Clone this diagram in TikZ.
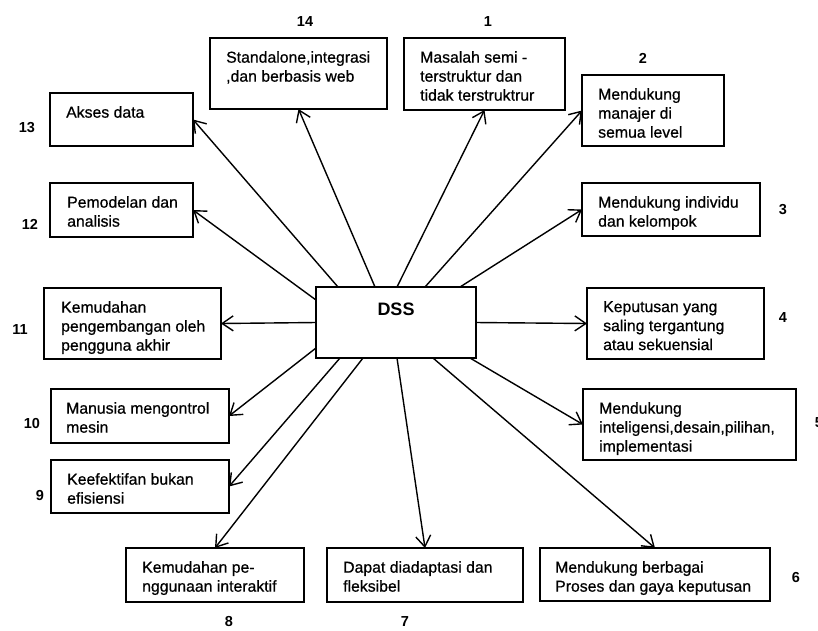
\documentclass[tikz,border=0pt]{standalone}
\usepackage{fontspec}
\setmainfont{Liberation Sans}
\newfontfamily\boxfont[FakeBold=0.7]{Liberation Sans}
\usetikzlibrary{arrows.meta}

\begin{document}
\begin{tikzpicture}[x=1pt,y=-1pt,>={Straight Barb[length=11pt,width=15pt]},
  box/.style={draw,line width=1.8pt,inner sep=0pt,outer sep=0pt,anchor=north west},
  txt/.style={anchor=north west,inner sep=0pt,align=left,font=\boxfont\fontsize{15.8}{19}\selectfont},
  num/.style={inner sep=0pt,font=\bfseries\fontsize{14.5}{16}\selectfont},
  arr/.style={->,line width=1.4pt}]

\useasboundingbox (0,0) rectangle (818,630);

% boxes: name/left/top/width/height
\foreach \n/\x/\y/\w/\h in {dss/316/287/160/71, 14/210/38/177/71, 1/404/38/161/72,
  2/582/75/142/71, 3/582/183/178/53, 4/587/288/177/71, 5/583/389/213/71,
  6/540/548/230/53, 7/327/548/196/54, 8/126/548/178/54, 9/51/460/178/53,
  10/51/389/178/54, 11/44/288/177/71, 12/50/183/143/54, 13/50/93/143/53}{
  \node[box,minimum width=\w,minimum height=\h] (b\n) at (\x,\y) {};
}

\node[font=\bfseries\fontsize{18}{20}\selectfont,inner sep=0pt] (dss) at (396,309) {DSS};

\node[txt] (t14) at ([shift={(16,13)}]b14.north west) {Standalone,integrasi\\,dan berbasis web};
\node[txt] (t1) at ([shift={(16,13)}]b1.north west) {Masalah semi -\\terstruktur dan\\tidak terstruktrur};
\node[txt] (t2) at ([shift={(16,13)}]b2.north west) {Mendukung\\manajer di\\semua level};
\node[txt] (t3) at ([shift={(16,13)}]b3.north west) {Mendukung individu\\dan kelompok};
\node[txt] (t4) at ([shift={(16,13)}]b4.north west) {Keputusan yang\\saling tergantung\\atau sekuensial};
\node[txt] (t5) at ([shift={(16,13)}]b5.north west) {Mendukung\\inteligensi,desain,pilihan,\\implementasi};
\node[txt] (t6) at ([shift={(15,13)}]b6.north west) {Mendukung berbagai\\Proses dan  gaya keputusan};
\node[txt] (t7) at ([shift={(16,13)}]b7.north west) {Dapat diadaptasi  dan\\fleksibel};
\node[txt] (t8) at ([shift={(16,13)}]b8.north west) {Kemudahan pe-\\nggunaan interaktif};
\node[txt] (t9) at ([shift={(16,13)}]b9.north west) {Keefektifan bukan\\efisiensi};
\node[txt] (t10) at ([shift={(15,13)}]b10.north west) {Manusia mengontrol\\mesin};
\node[txt] (t11) at ([shift={(17,13)}]b11.north west) {Kemudahan\\pengembangan oleh\\pengguna akhir};
\node[txt] (t12) at ([shift={(17,13)}]b12.north west) {Pemodelan dan\\analisis};
\node[txt] (t13) at ([shift={(16,13)}]b13.north west) {Akses data};

% numbers
\foreach \n/\x/\y in {14/305/22, 1/488/22, 2/643/58, 3/783/210, 4/783/318, 5/819/423,
  6/796/577, 7/405/621, 8/229/621, 9/40/495, 10/32/423, 11/20/330, 12/30/224, 13/27/128}{
  \node[num] (n\n) at (\x,\y) {\n};
}

% arrows
\draw[arr] ([xshift=59]bdss.north west) -- (b14.south);
\draw[arr] ([xshift=81]bdss.north west) -- (b1.south);
\draw[arr] ([xshift=109]bdss.north west) -- (b2.west);
\draw[arr] ([xshift=144]bdss.north west) -- (b3.west);
\draw[arr] (bdss.east) -- (b4.west);
\draw[arr] ([xshift=-6]bdss.south east) -- (b5.west);
\draw[arr] ([xshift=117]bdss.south west) -- (b6.north);
\draw[arr] ([xshift=81]bdss.south west) -- (b7.north);
\draw[arr] ([xshift=47]bdss.south west) -- (b8.north);
\draw[arr] ([xshift=24]bdss.south west) -- (b9.east);
\draw[arr] ([yshift=10]bdss.south west) -- (b10.east);
\draw[arr] (bdss.west) -- (b11.east);
\draw[arr] ([yshift=-13]bdss.north west) -- (b12.east);
\draw[arr] ([xshift=22]bdss.north west) -- (b13.east);

\end{tikzpicture}
\end{document}
